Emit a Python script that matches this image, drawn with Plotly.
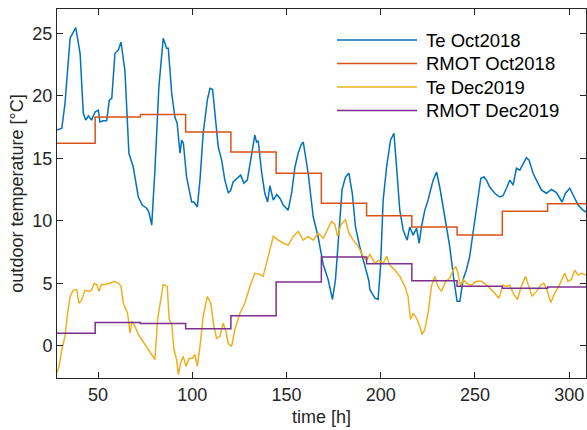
import plotly.graph_objects as go

# ---------------- data ----------------
te_oct_t = [28.1, 30.8, 32.5, 35.2, 38.2, 40.5, 42.2, 43.5, 44.9, 46.6, 48.4, 50.2, 51.0, 52.8, 54.6,
            56.0, 57.3, 59.0, 60.8, 62.2, 64.3, 66.4, 68.7, 71.4, 73.5, 75.8, 77.0, 78.5, 80.2, 82.3,
            84.6, 86.4, 87.3, 89.1, 90.8, 92.0, 93.5, 94.4, 95.3, 97.0, 98.4, 99.7, 100.9, 102.7, 104.1,
            105.8, 108.0, 109.4, 110.8, 112.0, 113.8, 115.6, 117.3, 119.1, 120.3, 121.7, 123.8, 125.7,
            127.4, 129.2, 131.0, 133.2, 134.1, 135.0, 136.8, 138.5, 140.0, 141.2, 143.0, 144.8, 146.5,
            148.3, 150.9, 152.7, 154.5, 156.2, 157.7, 158.9, 161.5, 164.2, 166.8, 169.5, 172.1, 174.4,
            176.0, 177.8, 179.5, 181.3, 183.1, 184.9, 186.6, 188.9, 191.6, 193.7, 194.2, 196.9, 198.6,
            199.9, 201.3, 203.1, 205.2, 207.0, 208.4, 210.1, 211.9, 214.0, 215.4, 217.2, 219.0, 220.4,
            221.6, 223.4, 225.1, 227.8, 229.6, 231.3, 234.0, 236.6, 238.8, 240.5, 242.0, 243.7, 245.5,
            247.2, 249.4, 251.7, 253.1, 254.8, 256.1, 257.8, 260.5, 263.1, 264.9, 266.7, 268.5, 270.2,
            272.0, 273.8, 275.5, 277.3, 278.7, 280.8, 282.6, 285.3, 287.9, 290.6, 293.2, 296.2, 298.0,
            300.3, 302.6, 304.7, 307.3, 308.9]
te_oct_v = [17.25, 17.4, 19.4, 24.6, 25.45, 23.4, 18.6, 18.05, 18.4, 18.05, 18.7, 18.85, 17.9, 18.0, 18.0,
            19.65, 19.8, 23.4, 23.65, 24.3, 22.0, 15.4, 14.3, 11.9, 11.25, 11.0, 10.7, 9.65, 14.05, 20.7,
            24.6, 23.8, 23.8, 20.2, 18.3, 17.8, 15.4, 16.45, 16.2, 13.5, 12.45, 11.5, 11.5, 11.1, 13.25,
            17.0, 19.65, 20.6, 20.5, 18.6, 15.9, 14.85, 13.25, 12.25, 12.4, 13.1, 13.4, 13.65,
            13.0, 13.25, 14.85, 16.85, 16.3, 16.4, 13.9, 12.2, 11.5, 12.8, 11.65, 12.1, 11.8,
            11.25, 10.85, 12.2, 14.3, 15.4, 16.05, 16.3, 13.8, 10.3, 8.7, 6.5, 5.3, 3.7,
            5.3, 8.8, 12.5, 13.5, 13.8, 12.2, 9.5, 7.9, 6.5, 5.2, 4.5, 3.8, 3.7,
            6.35, 11.65, 14.3, 16.45, 17.0, 14.3, 10.85, 9.25, 8.45, 9.5, 8.85, 9.4, 8.2,
            9.5, 10.85, 11.65, 13.25, 13.9, 12.7, 10.3, 7.95, 5.3, 3.55, 3.55, 5.3, 6.1,
            7.15, 9.5, 12.2, 13.4, 13.5, 13.25, 12.7, 12.2, 11.9, 12.0, 12.6, 13.25, 12.85,
            14.2, 14.05, 14.6, 15.05, 14.85, 13.8, 13.25, 12.45, 12.2, 12.5, 12.25, 11.5, 12.2,
            12.6, 11.9, 11.25, 10.85, 10.7]

te_dec_t = [28.1, 29.3, 30.8, 32.5, 33.9, 35.2, 36.9, 38.7, 39.9, 41.3, 43.1, 44.9, 46.6, 48.0, 49.3,
            50.5, 51.9, 53.7, 56.4, 58.7, 60.8, 62.2, 63.4, 64.7, 65.7, 67.0, 67.9, 69.6, 71.4, 73.2,
            74.9, 76.7, 78.8, 80.2, 81.6, 83.4, 84.6, 86.7, 87.8, 89.1, 90.3, 91.7, 92.6, 93.8, 95.2,
            96.7, 98.4, 100.2, 101.4, 102.7, 104.1, 105.8, 108.0, 109.8, 111.5, 112.9, 114.7, 116.4,
            117.9, 119.1, 120.9, 122.6, 125.3, 127.9, 130.6, 133.2, 135.5, 137.6, 139.4, 141.2, 143.0,
            145.6, 148.3, 150.9, 153.6, 156.2, 158.9, 161.5, 164.2, 166.8, 169.5, 171.3, 173.9, 175.7,
            177.1, 178.8, 181.3, 183.1, 185.4, 188.0, 190.7, 192.4, 194.2, 196.9, 199.1, 201.3, 203.1,
            204.8, 207.5, 210.1, 212.8, 214.5, 215.8, 217.2, 219.0, 220.7, 222.0, 223.4, 225.1, 226.9,
            228.7, 230.4, 232.2, 234.5, 236.6, 238.4, 239.8, 241.0, 242.3, 243.7, 245.5, 248.1, 250.8,
            253.5, 257.0, 259.6, 262.6, 264.9, 266.7, 268.5, 270.2, 272.5, 274.6, 276.8, 278.5, 280.3,
            282.6, 284.9, 286.6, 288.4, 290.2, 292.3, 294.4, 296.2, 297.6, 299.4, 301.2, 302.9, 304.7,
            306.5, 308.9]
te_dec_v = [-2.2, -1.7, -0.3, 0.75, 2.6, 3.95, 4.45, 4.5, 3.4, 3.65, 4.45, 4.35, 4.45, 5.0, 4.9,
            4.35, 4.9, 4.9, 5.0, 5.15, 5.0, 4.75, 3.4, 2.9, 2.6, 1.0, 1.95, 1.55, 0.9, 0.5,
            0.1, -0.3, -0.85, -1.1, 2.1, 3.95, 4.9, 4.75, 2.1, 1.75, -0.3, -1.1, -2.3, -1.4, -0.85,
            -1.65, -1.0, -1.0, -0.7, -1.65, -0.05, 2.35, 3.95, 3.4, 1.55, 0.6, 0.75, 1.8,
            1.15, 0.2, -0.05, 1.3, 2.6, 3.4, 4.75, 5.8, 5.75, 5.55, 6.6, 7.8, 8.75,
            8.45, 8.2, 8.05, 8.75, 9.15, 8.45, 8.75, 8.45, 9.0, 8.6, 9.15, 9.95, 9.7,
            8.75, 9.65, 10.1, 9.0, 8.45, 7.95, 7.15, 6.85, 7.3, 6.6, 6.85, 6.6, 7.15,
            6.45, 6.05, 5.55, 4.75, 3.95, 2.1, 2.6, 2.2, 1.55, 0.9, 1.3, 2.6, 4.75,
            5.55, 4.75, 4.35, 5.15, 5.4, 6.05, 6.35, 5.8, 4.75, 5.3, 5.0, 4.85, 5.15,
            5.15, 4.75, 4.35, 3.8, 4.85, 4.75, 4.85, 4.2, 3.7, 4.75, 5.55, 4.75, 3.95,
            4.35, 4.85, 5.0, 4.35, 3.45, 4.2, 4.75, 5.4, 5.8, 5.15, 5.3, 6.05, 5.65,
            5.8, 5.65]

rmot_t = [28.2, 48.5, 72.5, 96.5, 120.5, 144.5, 168.5, 192.5, 216.5, 240.5, 264.5, 288.5, 308.9]
rmot_oct_v = [16.2, 18.3, 18.5, 17.1, 15.5, 13.8, 11.4, 10.4, 9.5, 8.85, 10.75, 11.35, 11.35]
rmot_dec_v = [1.0, 1.85, 1.78, 1.36, 2.4, 5.1, 7.1, 6.55, 5.2, 4.75, 4.6, 4.7, 4.7]

names = ["Te Oct2018", "RMOT Oct2018", "Te Dec2019", "RMOT Dec2019"]
colors = ["#0072BD", "#D95319", "#EDB120", "#7E2F8E"]
x_ticks = [50, 100, 150, 200, 250, 300]
y_ticks = [0, 5, 10, 15, 20, 25]

# ---------------- figure ----------------
fig = go.Figure()
series = [
    (te_oct_t, te_oct_v, "linear"),
    (rmot_t, rmot_oct_v, "hv"),
    (te_dec_t, te_dec_v, "linear"),
    (rmot_t, rmot_dec_v, "hv"),
]
for (xs, ys, shape), name, col in zip(series, names, colors):
    fig.add_trace(go.Scatter(x=xs, y=ys, mode="lines", name=name,
                             line=dict(color=col, width=1.5, shape=shape),
                             showlegend=False))

FONT = "Liberation Sans, Arial, Helvetica, sans-serif"
W, H = 587, 430
L, R, T, B = 57, 1, 9, 52
pw, ph = W - L - R, H - T - B

# manual MATLAB-style legend (no box)
leg_rows = [40, 63.5, 87, 110.5]
shapes, annots = [], []
for name, col, py in zip(names, colors, leg_rows):
    yp = (H - B - py) / ph
    shapes.append(dict(type="line", xref="paper", yref="paper",
                       x0=(337 - L) / pw, x1=(417 - L) / pw, y0=yp, y1=yp,
                       line=dict(color=col, width=1.5)))
    annots.append(dict(xref="paper", yref="paper", x=(424 - L) / pw, y=yp,
                       text=name, showarrow=False, xanchor="left", yanchor="middle",
                       font=dict(family=FONT, size=18.5, color="#000000")))

axis_common = dict(showline=True, linecolor="#262626", linewidth=1, mirror="ticks",
                   ticks="inside", ticklen=6, tickcolor="#262626", tickwidth=1,
                   showgrid=False, zeroline=False,
                   tickfont=dict(family=FONT, size=18, color="#262626"))

fig.update_layout(
    width=W, height=H,
    margin=dict(l=L, r=R, t=T, b=B),
    paper_bgcolor="white", plot_bgcolor="white",
    shapes=shapes, annotations=annots,
    xaxis=dict(range=[28.25, 308.9], tickvals=x_ticks,
               title=dict(text="time [h]", font=dict(family=FONT, size=18, color="#262626"),
                          standoff=6),
               **axis_common),
    yaxis=dict(range=[-2.58, 26.94], tickvals=y_ticks,
               title=dict(text="outdoor temperature [°C]",
                          font=dict(family=FONT, size=18, color="#262626"), standoff=4),
               **axis_common),
)

fig.write_html("out.html")
